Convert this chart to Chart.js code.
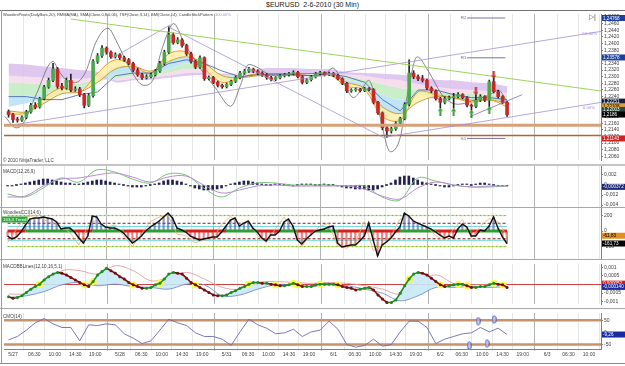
<!DOCTYPE html>
<html>
<head>
<meta charset="utf-8">
<script src="https://cdn.jsdelivr.net/npm/chart.js@4.4.1/dist/chart.umd.min.js"></script>
<style>
  html, body { margin: 0; padding: 0; background: #fff; }
  #wrap { position: relative; width: 625px; height: 366px; overflow: hidden; font-family: "Liberation Sans", Arial, sans-serif; }
  canvas { position: absolute; left: 0; }
  #title { position: absolute; top: 0; left: 0; width: 625px; text-align: center; font-size: 7px; line-height: 10px; color: #202020; white-space: pre; }
  .rule { position: absolute; left: 0; width: 625px; z-index: 2; }
</style>
</head>
<body>
<div id="wrap">
  <div id="title">$EURUSD  2-6-2010 (30 Min)</div>
  <canvas id="main" width="625" height="154" style="top:10px"></canvas>
  <canvas id="macd" width="625" height="41" style="top:166px"></canvas>
  <canvas id="cci" width="625" height="51" style="top:208px"></canvas>
  <canvas id="bb" width="625" height="48" style="top:260px"></canvas>
  <canvas id="cmo" width="625" height="54" style="top:309px"></canvas>
  <div class="rule" style="top:10px;height:1px;background:#707070"></div>
  <div class="rule" style="top:164px;height:2px;background:#c4c4c4"></div>
  <div class="rule" style="top:207px;height:1px;background:#a8a8a8"></div>
  <div class="rule" style="top:259px;height:1px;background:#a8a8a8"></div>
  <div class="rule" style="top:308px;height:1px;background:#a8a8a8"></div>
  <div class="rule" style="top:363px;height:1px;background:#8a8a8a"></div>
  <div style="position:absolute;left:1px;top:10px;width:1px;height:354px;background:#9a9a9a;z-index:2"></div>
</div>
<script>
const FONT = '"Liberation Sans", Arial, sans-serif';
const X_MIN = -2.02;
const X_MAX = 132.1;
const FIRST_SLOT = -1;

// time axis (one slot = one hourly candle)
const tickPos = [0, 4.8, 9.4, 14, 18.5, 24, 28.8, 33.4, 38, 42.5, 48, 52.8, 57.4, 62, 66.5,
  72, 76.8, 81.4, 86, 90.5, 96, 100.8, 105.4, 110, 114.5, 120, 124.8, 129.4];
const tickText = ['5/27', '06:30', '10:00', '14:30', '19:00', '5/28', '06:30', '10:00', '14:30', '19:00',
  '5/31', '06:30', '10:00', '14:30', '19:00', '6/1', '06:30', '10:00', '14:30', '19:00',
  '6/2', '06:30', '10:00', '14:30', '19:00', '6/3', '06:30', '10:00'];
const dayTicks = [0, 24, 48, 72, 96, 120];

// candles
const opens = [
  1.2195, 1.2186, 1.2171, 1.2169, 1.2177, 1.2194, 1.2214, 1.2209, 1.2234, 1.2269, 1.2289, 1.2323,
  1.2271, 1.2266, 1.2289, 1.2260, 1.2263, 1.2246, 1.2214, 1.2243, 1.2346, 1.2363, 1.2386, 1.2374,
  1.2360, 1.2366, 1.2357, 1.2351, 1.2340, 1.2320, 1.2306, 1.2297, 1.2300, 1.2306, 1.2317, 1.2340,
  1.2374, 1.2426, 1.2403, 1.2411, 1.2394, 1.2369, 1.2346, 1.2329, 1.2357, 1.2294, 1.2298, 1.2283,
  1.2274, 1.2270, 1.2277, 1.2286, 1.2297, 1.2311, 1.2317, 1.2323, 1.2317, 1.2311, 1.2306, 1.2297,
  1.2292, 1.2297, 1.2303, 1.2306, 1.2309, 1.2313, 1.2300, 1.2283, 1.2291, 1.2300, 1.2309, 1.2312,
  1.2306, 1.2310, 1.2304, 1.2294, 1.2280, 1.2257, 1.2260, 1.2262, 1.2258, 1.2264, 1.2261, 1.2223,
  1.2191, 1.2146, 1.2137, 1.2143, 1.2160, 1.2174, 1.2217, 1.2311, 1.2300, 1.2294, 1.2289, 1.2266,
  1.2257, 1.2234, 1.2223, 1.2234, 1.2237, 1.2240, 1.2246, 1.2237, 1.2214, 1.2211, 1.2229, 1.2240,
  1.2229, 1.2285, 1.2255, 1.2240, 1.2223];
const highs = [
  1.2200, 1.2190, 1.2178, 1.2182, 1.2199, 1.2220, 1.2222, 1.2238, 1.2274, 1.2296, 1.2340, 1.2328,
  1.2280, 1.2296, 1.2308, 1.2270, 1.2268, 1.2250, 1.2249, 1.2352, 1.2370, 1.2394, 1.2390, 1.2378,
  1.2372, 1.2370, 1.2362, 1.2355, 1.2344, 1.2326, 1.2310, 1.2306, 1.2311, 1.2322, 1.2346, 1.2380,
  1.2451, 1.2432, 1.2418, 1.2415, 1.2398, 1.2374, 1.2350, 1.2363, 1.2360, 1.2303, 1.2301, 1.2287,
  1.2278, 1.2281, 1.2290, 1.2302, 1.2316, 1.2322, 1.2328, 1.2326, 1.2321, 1.2315, 1.2310, 1.2301,
  1.2300, 1.2307, 1.2310, 1.2313, 1.2318, 1.2316, 1.2303, 1.2295, 1.2304, 1.2313, 1.2316, 1.2315,
  1.2314, 1.2313, 1.2307, 1.2297, 1.2283, 1.2264, 1.2266, 1.2265, 1.2268, 1.2267, 1.2264, 1.2226,
  1.2194, 1.2150, 1.2148, 1.2164, 1.2178, 1.2222, 1.2351, 1.2318, 1.2306, 1.2304, 1.2293, 1.2270,
  1.2260, 1.2238, 1.2240, 1.2242, 1.2250, 1.2252, 1.2249, 1.2240, 1.2218, 1.2246, 1.2246, 1.2243,
  1.2290, 1.2297, 1.2259, 1.2243, 1.2226];
const lows = [
  1.2178, 1.2162, 1.2163, 1.2165, 1.2173, 1.2190, 1.2203, 1.2205, 1.2230, 1.2265, 1.2285, 1.2265,
  1.2260, 1.2262, 1.2255, 1.2256, 1.2240, 1.2206, 1.2210, 1.2238, 1.2340, 1.2358, 1.2368, 1.2355,
  1.2356, 1.2352, 1.2346, 1.2336, 1.2315, 1.2301, 1.2292, 1.2293, 1.2296, 1.2302, 1.2313, 1.2335,
  1.2370, 1.2398, 1.2399, 1.2389, 1.2364, 1.2341, 1.2324, 1.2325, 1.2289, 1.2290, 1.2279, 1.2269,
  1.2265, 1.2266, 1.2273, 1.2282, 1.2293, 1.2307, 1.2313, 1.2312, 1.2306, 1.2301, 1.2292, 1.2287,
  1.2288, 1.2293, 1.2299, 1.2302, 1.2305, 1.2296, 1.2278, 1.2279, 1.2287, 1.2296, 1.2305, 1.2302,
  1.2303, 1.2300, 1.2290, 1.2276, 1.2252, 1.2253, 1.2256, 1.2254, 1.2255, 1.2257, 1.2218, 1.2186,
  1.2140, 1.2117, 1.2130, 1.2138, 1.2155, 1.2170, 1.2212, 1.2294, 1.2288, 1.2284, 1.2261, 1.2252,
  1.2229, 1.2206, 1.2218, 1.2230, 1.2205, 1.2236, 1.2233, 1.2209, 1.2200, 1.2207, 1.2225, 1.2225,
  1.2210, 1.2251, 1.2236, 1.2219, 1.2180];
const closes = [
  1.2186, 1.2171, 1.2169, 1.2177, 1.2194, 1.2214, 1.2209, 1.2234, 1.2269, 1.2289, 1.2323, 1.2271,
  1.2266, 1.2289, 1.2260, 1.2263, 1.2246, 1.2214, 1.2243, 1.2346, 1.2363, 1.2386, 1.2374, 1.2360,
  1.2366, 1.2357, 1.2351, 1.2340, 1.2320, 1.2306, 1.2297, 1.2300, 1.2306, 1.2317, 1.2340, 1.2374,
  1.2426, 1.2403, 1.2411, 1.2394, 1.2369, 1.2346, 1.2329, 1.2357, 1.2294, 1.2298, 1.2283, 1.2274,
  1.2270, 1.2277, 1.2286, 1.2297, 1.2311, 1.2317, 1.2323, 1.2317, 1.2311, 1.2306, 1.2297, 1.2292,
  1.2297, 1.2303, 1.2306, 1.2309, 1.2313, 1.2300, 1.2283, 1.2291, 1.2300, 1.2309, 1.2312, 1.2306,
  1.2310, 1.2304, 1.2294, 1.2280, 1.2257, 1.2260, 1.2262, 1.2258, 1.2264, 1.2261, 1.2223, 1.2191,
  1.2146, 1.2137, 1.2143, 1.2160, 1.2174, 1.2217, 1.2311, 1.2300, 1.2294, 1.2289, 1.2266, 1.2257,
  1.2234, 1.2223, 1.2234, 1.2237, 1.2240, 1.2246, 1.2237, 1.2214, 1.2211, 1.2229, 1.2240, 1.2229,
  1.2285, 1.2255, 1.2240, 1.2223, 1.2186];

// overlays sampled every 4 slots
const maSlots = [-1, 3, 7, 11, 15, 19, 23, 27, 31, 35, 39, 43, 47, 51, 55, 59, 63, 67, 71, 75, 79, 83, 87, 91, 95, 99, 103, 107, 111];
const ribbon1 = [1.2209, 1.2220, 1.2231, 1.2251, 1.2260, 1.2283, 1.2331, 1.2329, 1.2311, 1.2346, 1.2357, 1.2329, 1.2289, 1.2300, 1.2306, 1.2300, 1.2303, 1.2300, 1.2306, 1.2277, 1.2260, 1.2197, 1.2189, 1.2246, 1.2231, 1.2231, 1.2226, 1.2231, 1.2220];
const ribbon2 = [1.2240, 1.2243, 1.2249, 1.2260, 1.2269, 1.2283, 1.2306, 1.2311, 1.2306, 1.2323, 1.2340, 1.2329, 1.2300, 1.2303, 1.2306, 1.2303, 1.2306, 1.2303, 1.2306, 1.2291, 1.2277, 1.2246, 1.2231, 1.2246, 1.2240, 1.2237, 1.2234, 1.2234, 1.2231];
const ribbon3 = [1.2283, 1.2280, 1.2277, 1.2274, 1.2280, 1.2289, 1.2294, 1.2303, 1.2303, 1.2311, 1.2323, 1.2320, 1.2306, 1.2306, 1.2309, 1.2306, 1.2306, 1.2306, 1.2306, 1.2300, 1.2291, 1.2277, 1.2266, 1.2260, 1.2254, 1.2251, 1.2249, 1.2246, 1.2243];
const ribbon4 = [1.2303, 1.2300, 1.2297, 1.2294, 1.2294, 1.2297, 1.2289, 1.2294, 1.2297, 1.2303, 1.2311, 1.2311, 1.2309, 1.2309, 1.2311, 1.2309, 1.2309, 1.2309, 1.2309, 1.2306, 1.2303, 1.2294, 1.2289, 1.2277, 1.2269, 1.2263, 1.2260, 1.2257, 1.2251];
const ribbon5 = [1.2340, 1.2337, 1.2331, 1.2326, 1.2320, 1.2314, 1.2283, 1.2289, 1.2291, 1.2297, 1.2303, 1.2306, 1.2306, 1.2309, 1.2323, 1.2326, 1.2326, 1.2323, 1.2323, 1.2314, 1.2311, 1.2309, 1.2306, 1.2300, 1.2291, 1.2289, 1.2283, 1.2280, 1.2271];
const maFast = [1.2188, 1.2191, 1.2237, 1.2266, 1.2254, 1.2311, 1.2351, 1.2334, 1.2311, 1.2369, 1.2374, 1.2323, 1.2283, 1.2297, 1.2309, 1.2303, 1.2306, 1.2303, 1.2306, 1.2271, 1.2260, 1.2180, 1.2169, 1.2254, 1.2246, 1.2237, 1.2223, 1.2231, 1.2209];
const maSlow = [1.2197, 1.2194, 1.2220, 1.2249, 1.2254, 1.2283, 1.2323, 1.2331, 1.2317, 1.2346, 1.2360, 1.2340, 1.2303, 1.2297, 1.2303, 1.2303, 1.2306, 1.2303, 1.2306, 1.2283, 1.2266, 1.2209, 1.2189, 1.2223, 1.2240, 1.2237, 1.2229, 1.2231, 1.2220];
const bmiLine = [1.2240, 1.2240, 1.2231, 1.2231, 1.2246, 1.2254, 1.2303, 1.2311, 1.2311, 1.2340, 1.2351, 1.2340, 1.2317, 1.2300, 1.2306, 1.2306, 1.2306, 1.2303, 1.2309, 1.2300, 1.2283, 1.2231, 1.2197, 1.2260, 1.2260, 1.2246, 1.2237, 1.2237, 1.2231];

// TSF wave (turning points)
const tsfSlots = [-1.8, 0.7, 2.2, 5.2, 9.0, 10.3, 12.1, 14.1, 16.4, 18.6, 21.3, 23.6, 26.0, 29.4, 31.4, 33.6, 36.1, 38.4, 42.2, 45.5, 48.9, 51.1, 52.9, 55.2, 57.4, 62.4, 70.2, 71.8, 74.0, 76.5, 78.5, 79.9, 82.1, 84.8, 87.0, 88.8, 90.8, 93.3, 96.7, 100.0, 104.0, 107.2, 109.0, 111.3];
const tsfValues = [1.2180, 1.2146, 1.2157, 1.2246, 1.2346, 1.2317, 1.2289, 1.2283, 1.2317, 1.2403, 1.2446, 1.2397, 1.2331, 1.2274, 1.2289, 1.2389, 1.2460, 1.2403, 1.2323, 1.2266, 1.2211, 1.2274, 1.2337, 1.2326, 1.2309, 1.2309, 1.2311, 1.2326, 1.2289, 1.2237, 1.2266, 1.2289, 1.2197, 1.2074, 1.2117, 1.2260, 1.2360, 1.2317, 1.2240, 1.2217, 1.2231, 1.2246, 1.2260, 1.2217];

// drawing tools
const greenTrend = [[13.0, 1.2474], [132.1, 1.2257]];
const channelUpper = [[1.1, 1.2157], [132.3, 1.2437]];
const channelLower = [[83.2, 1.2117], [132.3, 1.2223]];
const fallLine = [[34.8, 1.2451], [83.2, 1.2117]];
const riseLine = [[22.0, 1.2354], [35.4, 1.2457]];
const shortLine = [[102.7, 1.2180], [114.4, 1.2246]];
const supportLevels = [1.2154, 1.2123];
const pivotNames = ['R2', 'R1', 'S1'];
const pivotValues = [1.2477, 1.2357, 1.2114];
const pivotRange = [102, 110.6];
const upArrowSlots = [96, 99, 103, 107];
const upArrowPrices = [1.2195, 1.2194, 1.2189, 1.2199];
const downArrowSlots = [104, 108];
const downArrowPrices = [1.2256, 1.2306];

// MACD(12,26,9)
const macdLine = [-0.0018, -0.0024, -0.0006, 0.0014, 0.0006, 0.0030, 0.0026, 0.0012, 0.0004, 0.0022, 0.0020, -0.0006, -0.0024, -0.0006, 0.0004, 0.0004, 0, 0, 0, -0.0002, -0.0002, -0.0024, -0.0030, 0.0014, 0.0008, 0, -0.0004, -0.0004, -0.0002];
const macdSignal = [-0.0024, -0.0022, -0.0002, 0.0012, 0.0014, 0.0020, 0.0024, 0.0016, 0.0006, 0.0016, 0.0018, 0, -0.0016, -0.0010, -0.0002, 0, -0.0002, -0.0002, -0.0002, -0.0002, -0.0008, -0.0022, -0.0028, -0.0006, 0.0006, 0, -0.0004, -0.0002, -0.0002];
const macdHist = [
  -0.0002, -0.0002, 0, 0.0002, 0.0004, 0.0006, 0.0008, 0.0010, 0.0012, 0.0012, 0.0010, 0.0008,
  0.0006, 0.0004, 0.0004, 0.0002, 0.0002, 0.0004, 0.0006, 0.0008, 0.0010, 0.0010, 0.0008, 0.0006,
  0.0004, 0.0002, 0, -0.0002, -0.0004, -0.0004, -0.0004, -0.0002, 0, 0.0002, 0.0004, 0.0008,
  0.0010, 0.0010, 0.0008, 0.0006, 0.0002, -0.0002, -0.0006, -0.0008, -0.0010, -0.0010, -0.0010, -0.0008,
  -0.0006, -0.0002, 0.0002, 0.0004, 0.0006, 0.0008, 0.0008, 0.0006, 0.0004, 0.0002, 0, 0,
  0.0002, 0.0002, 0, 0, -0.0002, 0, 0.0002, 0.0002, 0.0002, 0, 0, 0.0002,
  0, 0, -0.0002, -0.0004, -0.0006, -0.0006, -0.0008, -0.0008, -0.0008, -0.0010, -0.0010, -0.0008,
  -0.0004, 0, 0.0004, 0.0010, 0.0016, 0.0018, 0.0018, 0.0014, 0.0010, 0.0006, 0.0004, 0.0002,
  0, -0.0002, -0.0004, -0.0004, -0.0002, 0, 0.0002, 0.0002, 0, 0.0002, 0.0004, 0.0004,
  0.0002, 0, -0.0002, -0.0002, -0.0002];

// WoodiesCCI(14,6)
const cci = [
  -65, -103, -77, -13, 77, 155, 168, 168, 181, 168, 155, 116,
  26, 39, 39, -13, -90, -155, -65, 194, 181, 90, 52, 39,
  39, 13, -26, -90, -155, -116, -65, 0, 52, 90, 129, 181,
  232, 168, 39, 13, -13, -65, -90, -116, -103, -90, -77, -77,
  -13, 65, 142, 168, 65, 103, 129, 39, -13, -90, -129, -52,
  -52, 0, 116, 155, 65, -116, -168, -103, -52, 0, 13, 26,
  52, 65, -155, -206, -194, -181, -181, -129, -65, 103, -116, -320,
  -181, -142, -90, -13, 52, 230, 194, 129, 103, 77, 52, 26,
  -13, -52, -90, -65, -90, 26, 90, 52, -65, -65, 13, 0,
  65, 181, 39, -77, -161];
const tcci = [-150, 20, 180, 200, 150, 100, 60, -20, -180, 60, 150, 40, 80, -60, -200, -40, 120, 180, 200, -40,
  -60, -150, -120, -100, 80, 190, 80, 140, -60, -150, 20, 180, 20, -200, -40, 60, 100, -190, -220, -150,
  120, -250, -200, -60, 150, 190, 100, 60, -60, -120, 20, 150, -90, 60, 160, 120, -61];

// MACDBBLines(12,10,16,5,1)
const bbMacd = [
  -0.00071, -0.00081, -0.00076, -0.00066, -0.00046, -0.00027, -0.00012, 0.00002, 0.00027, 0.00046, 0.00061, 0.00071,
  0.00066, 0.00056, 0.00041, 0.00027, 0.00012, -0.00002, -0.00012, 0.00017, 0.00056, 0.00076, 0.00095, 0.00081,
  0.00066, 0.00046, 0.00032, 0.00012, -0.00002, -0.00012, -0.00022, -0.00022, -0.00017, -0.00002, 0.00007, 0.00032,
  0.00061, 0.00071, 0.00066, 0.00061, 0.00037, 0.00012, -0.00002, -0.00017, -0.00032, -0.00046, -0.00061, -0.00066,
  -0.00066, -0.00061, -0.00046, -0.00037, -0.00022, -0.00012, 0.00002, 0.00012, 0.00012, 0.00007, 0.00007, 0.00002,
  -0.00002, -0.00007, -0.00007, -0.00002, 0.00007, -0.00002, -0.00012, -0.00012, -0.00012, -0.00002, 0.00002, 0.00002,
  0.00002, 0.00002, -0.00002, -0.00012, -0.00017, -0.00022, -0.00032, -0.00027, -0.00022, -0.00017, -0.00032, -0.00061,
  -0.00085, -0.00105, -0.00105, -0.00090, -0.00051, -0.00007, 0.00032, 0.00061, 0.00071, 0.00066, 0.00056, 0.00037,
  0.00017, -0.00002, -0.00012, -0.00007, -0.00002, 0.00002, 0.00002, -0.00007, -0.00017, -0.00017, -0.00012, -0.00012,
  -0.00002, 0.00007, 0.00002, -0.00002, -0.00017];
const bbUpper = [-0.00056, -0.00051, 0.00007, 0.00081, 0.00081, 0.00061, 0.00110, 0.00081, 0.00022, 0.00041, 0.00071, 0.00032, -0.00017, -0.00027, 0.00012, 0.00017, 0.00012, 0.00007, 0.00012, 0.00007, -0.00007, -0.00027, -0.00056, 0.00012, 0.00056, 0.00007, -0.00002, 0.00002, 0.00002];
const bbLower = [-0.00076, -0.00066, -0.00041, -0.00002, 0.00012, -0.00007, 0.00002, -0.00012, -0.00017, -0.00027, 0.00002, -0.00002, -0.00066, -0.00061, -0.00027, -0.00002, -0.00002, -0.00012, -0.00002, -0.00007, -0.00027, -0.00051, -0.00095, -0.00066, -0.00017, -0.00017, -0.00012, -0.00017, -0.00012];

// CMO(14)
const cmo = [-31, -17, 9, 39, 57, 35, 20, 20, -35, 31, 28, 35, 31, -6, -24, -46, -35, 9, 54, 39,
  28, -2, -17, -17, -28, -54, 2, 54, 31, 17, -6, -2, 13, -17, 2, 9, 46, 13, -50, -61,
  -54, -28, -57, -50, 2, 46, 46, 20, -46, -28, -17, -6, -2, 20, 2, 17, -9];
const cmoMarkSlots = [102.5, 104.5, 106.5, 108.1];
const cmoMarkValues = [-54, 46, -46, 53];

const candleSlots = closes.map((c, i) => FIRST_SLOT + i);
const halfSlots = cmo.map((v, i) => FIRST_SLOT + 2 * i);

Chart.defaults.font.family = FONT;

function points(xs, ys) {
  return ys.map((y, i) => ({ x: xs[i], y: y }));
}

function pairPoints(pairs) {
  return pairs.map(p => ({ x: p[0], y: p[1] }));
}

function flat(value, from, to) {
  return [{ x: from, y: value }, { x: to, y: value }];
}

function line(data, color, width, extra) {
  return Object.assign({ type: 'line', data: data, borderColor: color, borderWidth: width, pointRadius: 0, fill: false, tension: 0 }, extra || {});
}

function shape(draw, w, h) {
  const c = document.createElement('canvas');
  c.width = w;
  c.height = h;
  draw(c.getContext('2d'));
  return c;
}

const upArrow = shape(g => {
  g.fillStyle = '#2e9a2e';
  g.beginPath(); g.moveTo(2.5, 0); g.lineTo(5, 3.5); g.lineTo(0, 3.5); g.closePath(); g.fill();
  g.fillRect(1.5, 3.5, 2, 4.5);
}, 5, 8);
const downArrow = shape(g => {
  g.fillStyle = '#c42020';
  g.beginPath(); g.moveTo(2.5, 8); g.lineTo(5, 4.5); g.lineTo(0, 4.5); g.closePath(); g.fill();
  g.fillRect(1.5, 0, 2, 4.5);
}, 5, 8);
const ellipseMark = shape(g => {
  g.strokeStyle = '#4a58b8';
  g.fillStyle = 'rgba(200,208,250,0.7)';
  g.lineWidth = 1;
  g.beginPath(); g.ellipse(2.5, 4.5, 1.8, 3.8, 0, 0, Math.PI * 2); g.fill(); g.stroke();
}, 5, 9);

function xAxis(withLabels) {
  return {
    type: 'linear', min: X_MIN, max: X_MAX, offset: false,
    afterBuildTicks: axis => { axis.ticks = tickPos.map(v => ({ value: v })); },
    afterFit: axis => { axis.height = withLabels ? 14 : 0; axis.paddingLeft = 0; axis.paddingRight = 0; },
    border: { display: withLabels, color: '#808080' },
    grid: {
      color: ctx => (ctx.tick && dayTicks.includes(ctx.tick.value)) ? '#b2b2b2' : '#e6e6e6',
      lineWidth: 1, drawTicks: withLabels, tickLength: 2
    },
    ticks: {
      display: withLabels, autoSkip: false, maxRotation: 0, padding: 1,
      font: { size: 5, family: FONT }, color: '#404040',
      callback: (v, i) => tickText[i]
    }
  };
}

function yAxis(min, max, values, fmt) {
  return {
    type: 'linear', position: 'right', min: min, max: max,
    afterBuildTicks: axis => { axis.ticks = values.map(v => ({ value: v })); },
    afterFit: axis => { axis.width = 24; axis.paddingTop = 0; axis.paddingBottom = 0; },
    border: { display: true, color: '#808080' },
    grid: { drawOnChartArea: false, drawTicks: true, tickLength: 2, color: '#808080' },
    ticks: { autoSkip: false, padding: 1, font: { size: 5, family: FONT }, color: '#404040', callback: fmt }
  };
}

function commaText(v) {
  return String(v).replace('.', ',');
}

function notesPlugin(items) {
  return {
    id: 'notes',
    afterDraw(chart) {
      const ctx = chart.ctx;
      ctx.save();
      ctx.textBaseline = 'middle';
      items.forEach(n => {
        const px = n.data ? chart.scales.x.getPixelForValue(n.x) : n.x;
        const py = n.data ? chart.scales.y.getPixelForValue(n.y) : n.y;
        ctx.font = (n.size || 5) + 'px ' + FONT;
        const w = ctx.measureText(n.text).width;
        if (n.bg) {
          ctx.fillStyle = n.bg;
          ctx.fillRect(px - 1, py - 3, w + 2, 6);
        }
        ctx.fillStyle = n.color || '#303030';
        ctx.fillText(n.text, px, py);
        if (n.after) {
          ctx.fillStyle = n.afterColor;
          ctx.fillText(n.after, px + w + 2, py);
        }
      });
      ctx.restore();
    }
  };
}

function tagsPlugin(items) {
  return {
    id: 'tags',
    afterDraw(chart) {
      const ctx = chart.ctx;
      const left = chart.chartArea.right + 1;
      ctx.save();
      ctx.textBaseline = 'middle';
      ctx.font = '4.6px ' + FONT;
      items.forEach(t => {
        const py = chart.scales.y.getPixelForValue(t.value);
        ctx.fillStyle = t.bg;
        ctx.fillRect(left, py - 3, 24, 6);
        ctx.fillStyle = t.fg || '#ffffff';
        ctx.fillText(t.text, left + 1, py + 0.3);
      });
      ctx.restore();
    }
  };
}

function makeChart(id, datasets, yOpts, opts) {
  return new Chart(document.getElementById(id), {
    type: 'bar',
    data: { datasets: datasets },
    options: {
      responsive: false,
      animation: false,
      devicePixelRatio: 1,
      events: [],
      layout: { padding: { left: 3, right: 0, top: 0, bottom: 0 } },
      plugins: { legend: { display: false }, tooltip: { enabled: false } },
      scales: { x: xAxis(opts.labels), y: yOpts }
    },
    plugins: [notesPlugin(opts.notes || []), tagsPlugin(opts.tags || [])]
  });
}

// ---------- price panel ----------
const purple = '#a690d2';
const mainSets = [
  line(points(maSlots, ribbon5), 'transparent', 0, { order: 10, tension: 0.35 }),
  line(points(maSlots, ribbon4), 'transparent', 0, { order: 10, tension: 0.35, fill: '-1', backgroundColor: 'rgba(216,190,236,0.85)' }),
  line(points(maSlots, ribbon3), 'transparent', 0, { order: 10, tension: 0.35, fill: '-1', backgroundColor: 'rgba(246,216,234,0.85)' }),
  line(points(maSlots, ribbon2), 'transparent', 0, { order: 10, tension: 0.35, fill: '-1', backgroundColor: 'rgba(196,236,196,0.9)' }),
  line(points(maSlots, ribbon1), 'transparent', 0, { order: 10, tension: 0.35, fill: '-1', backgroundColor: 'rgba(186,226,246,0.9)' }),
  line(points(maSlots, maSlow), '#c8a038', 1, { order: 8, tension: 0.35 }),
  line(points(maSlots, maFast), '#f09a28', 1, { order: 8, tension: 0.35, fill: '-1', backgroundColor: 'rgba(255,238,160,0.8)' }),
  line(points(maSlots, bmiLine), '#3c5aa8', 0.8, { order: 7 }),
  line(points(tsfSlots, tsfValues), '#6a6a6a', 0.8, { order: 6, cubicInterpolationMode: 'monotone' }),
  {
    type: 'bar', order: 5, grouped: false, barThickness: 1, backgroundColor: '#222222',
    data: candleSlots.map((s, i) => ({ x: s, y: [lows[i], highs[i]] }))
  },
  {
    type: 'bar', order: 4, grouped: false, barThickness: 3, minBarLength: 1,
    backgroundColor: candleSlots.map((s, i) => closes[i] >= opens[i] ? '#4ca84c' : '#c82828'),
    data: candleSlots.map((s, i) => ({ x: s, y: [opens[i], closes[i]] }))
  },
  line(pairPoints(greenTrend), '#9cd45c', 1, { order: 3 }),
  line(pairPoints(channelUpper), purple, 0.8, { order: 3 }),
  line(pairPoints(channelLower), purple, 0.8, { order: 3 }),
  line(pairPoints(fallLine), purple, 0.8, { order: 3 }),
  line(pairPoints(riseLine), purple, 0.8, { order: 3 }),
  line(pairPoints(shortLine), '#8070c8', 0.8, { order: 3 }),
  line(flat(supportLevels[0], X_MIN, X_MAX), '#d6a078', 3, { order: 3 }),
  line(flat(supportLevels[1], X_MIN, X_MAX), '#b4642a', 1.5, { order: 3 }),
  ...pivotValues.map(v => line(flat(v, pivotRange[0], pivotRange[1]), '#7474b0', 1, { order: 3 })),
  line(points(upArrowSlots, upArrowPrices), 'transparent', 0, { order: 1, showLine: false, pointRadius: 3, pointStyle: upArrow }),
  line(points(downArrowSlots, downArrowPrices), 'transparent', 0, { order: 1, showLine: false, pointRadius: 3, pointStyle: downArrow })
];

const mainTicks = [1.206, 1.208, 1.21, 1.212, 1.214, 1.216, 1.218, 1.22, 1.222, 1.224, 1.226, 1.228, 1.23,
  1.232, 1.234, 1.236, 1.238, 1.24, 1.242, 1.244, 1.246, 1.248];

makeChart('main', mainSets, yAxis(1.2049, 1.2489, mainTicks, v => v.toFixed(4).replace('.', ',')), {
  labels: false,
  notes: [
    { x: 3, y: 4.5, size: 4, color: '#404040',
      text: 'WoodiesPivots(DailyBars,20), RMMA(MA), SMA(Close,0,8,0,06), TSF(Close,3,14), BMI(Close,14), CandleStickPattern',
      after: '100.00%', afterColor: purple },
    { x: 3, y: 151, size: 4.6, color: '#404040', text: '\u00a9 2010 NinjaTrader, LLC' },
    { x: 589, y: 7.5, size: 7, color: '#505050', text: '\u25b7|' },
    { data: true, x: 127.9, y: 1.2429, size: 4.4, color: purple, text: '50.00%' },
    { data: true, x: 128, y: 1.2207, size: 4.4, color: purple, text: '0.00%' },
    ...pivotNames.map((n, i) => ({ data: true, x: 100.6, y: pivotValues[i], size: 4.4, color: '#6a6a9a', text: n }))
  ],
  tags: [
    { value: 1.2477, text: '1,24768', bg: '#1e3ea0' },
    { value: 1.2358, text: '1,23578', bg: '#1e3ea0' },
    { value: 1.2225, text: '1,22251', bg: '#18203a' },
    { value: 1.2211, text: '1,22108', bg: '#e0a030', fg: '#000000' },
    { value: 1.2200, text: '1,22003', bg: '#2e4a3c' },
    { value: 1.2186, text: '1,2186', bg: '#000000' },
    { value: 1.2114, text: '1,21143', bg: '#d42020' }
  ]
});

// ---------- MACD ----------
makeChart('macd', [
  { type: 'bar', order: 3, grouped: false, barThickness: 2, minBarLength: 1, backgroundColor: '#22224e',
    data: points(candleSlots, macdHist) },
  line(points(maSlots, macdLine), '#78c078', 1, { order: 2, tension: 0.35 }),
  line(points(maSlots, macdSignal), '#b88ad8', 1, { order: 1, tension: 0.35 })
], yAxis(-0.0044, 0.0038, [0.002, 0, -0.002, -0.004], commaText), {
  labels: false,
  notes: [{ x: 3, y: 6, size: 4.6, color: '#404040', text: 'MACD(12,26,9)' }],
  tags: [{ value: -0.000372, text: '-0,000372', bg: '#1a2a78' }]
});

// ---------- Woodies CCI ----------
const cciFrom = candleSlots[0];
const cciTo = candleSlots[candleSlots.length - 1];
makeChart('cci', [
  line(flat(200, cciFrom, cciTo), '#6cc06c', 1.2, { order: 6, borderDash: [2, 2] }),
  line(flat(200, cciFrom, cciTo), '#f0e060', 1.2, { order: 6, borderDash: [2, 2], borderDashOffset: 2 }),
  line(flat(-200, cciFrom, cciTo), '#6cc06c', 1.2, { order: 6, borderDash: [2, 2] }),
  line(flat(-200, cciFrom, cciTo), '#f0e060', 1.2, { order: 6, borderDash: [2, 2], borderDashOffset: 2 }),
  line(flat(100, cciFrom, cciTo), '#8b1a1a', 1, { order: 6, borderDash: [3, 2] }),
  line(flat(-100, cciFrom, cciTo), '#8b1a1a', 1, { order: 6, borderDash: [3, 2] }),
  line(flat(60, cciFrom, cciTo), '#6ad8e0', 1, { order: 6 }),
  line(flat(-120, cciFrom, cciTo), '#6ad8e0', 1, { order: 6 }),
  { type: 'bar', order: 4, grouped: false, barThickness: 1.5,
    backgroundColor: cci.map(v => v >= 0 ? 'rgba(70,84,170,0.6)' : 'rgba(214,50,50,0.6)'),
    data: points(candleSlots, cci) },
  line(points(candleSlots, cci.map(() => 0)), '#d82020', 3, {
    order: 3,
    segment: { borderColor: ctx => cci[ctx.p0DataIndex] >= 0 ? '#2fa02f' : '#d82020' }
  }),
  line(points(halfSlots.slice(0, tcci.length), tcci), '#e4b06c', 0.8, { order: 2 }),
  line(points(candleSlots, cci), '#101010', 1.4, { order: 1 })
], yAxis(-361, 297, [200, 0, -200], v => String(v)), {
  labels: false,
  notes: [
    { x: 3, y: 5, size: 4.6, color: '#404040', text: 'WoodiesCCI(14,6)' },
    { x: 3, y: 11.5, size: 4.4, color: '#ffffff', bg: '#2fa83a', text: '163,4 Trend' }
  ],
  tags: [
    { value: -61, text: '-61,83', bg: '#e09020', fg: '#000000' },
    { value: -161, text: '-161,73', bg: '#000000' }
  ]
});

// ---------- MACD BB lines ----------
const crossings = [];
bbMacd.forEach((v, i) => {
  if (i > 0 && (v >= 0) !== (bbMacd[i - 1] >= 0)) crossings.push({ x: candleSlots[i], y: v });
});
makeChart('bb', [
  line(flat(0, X_MIN, X_MAX), '#d04040', 1, { order: 6 }),
  line(points(candleSlots, bbMacd), 'transparent', 0, { order: 7 }),
  line(points(maSlots, bbLower), '#6a80c8', 0.8, {
    order: 5, tension: 0.35,
    fill: { target: 1, above: 'rgba(0,0,0,0)', below: 'rgba(200,232,246,0.9)' }
  }),
  line(points(maSlots, bbUpper), '#e09090', 0.8, { order: 5, tension: 0.35 }),
  line(crossings, 'transparent', 0, { order: 4, showLine: false, pointRadius: 3.6, pointBackgroundColor: '#fafa50', pointBorderWidth: 0 }),
  line(points(candleSlots, bbMacd), '#208020', 1.6, {
    order: 1,
    pointRadius: 1.5, pointBorderWidth: 0,
    pointBackgroundColor: ctx => (ctx.dataIndex > 0 && bbMacd[ctx.dataIndex] < bbMacd[ctx.dataIndex - 1]) ? '#7a0c0c' : '#1f8a1f',
    segment: { borderColor: ctx => ctx.p1.parsed.y < ctx.p0.parsed.y ? '#7a0c0c' : '#1f8a1f' }
  })
], yAxis(-0.00114, 0.0012, [0.001, 0.0005, -0.0005, -0.001], commaText), {
  labels: false,
  notes: [{ x: 3, y: 7, size: 4.6, color: '#404040', text: 'MACDBBLines(12,10,16,5,1)' }],
  tags: [
    { value: 0.00005, text: '0,000052', bg: '#cc2020' },
    { value: -0.00014, text: '-0,000140', bg: '#1a2a9a' }
  ]
});

// ---------- CMO ----------
makeChart('cmo', [
  line(flat(50, X_MIN, X_MAX), '#c8926a', 2.5, { order: 3 }),
  line(flat(-50, X_MIN, X_MAX), '#c8926a', 2.5, { order: 3 }),
  line(points(halfSlots, cmo), '#6a6ab8', 0.9, { order: 2 }),
  line(points(cmoMarkSlots, cmoMarkValues), 'transparent', 0, { order: 1, showLine: false, pointRadius: 3, pointStyle: ellipseMark })
], yAxis(-68.5, 79.6, [50, 0, -50], v => String(v)), {
  labels: true,
  notes: [{ x: 3, y: 8, size: 4.6, color: '#404040', text: 'CMO(14)' }],
  tags: [{ value: -9, text: '-9,26', bg: '#1a2aa0' }]
});
</script>
</body>
</html>
